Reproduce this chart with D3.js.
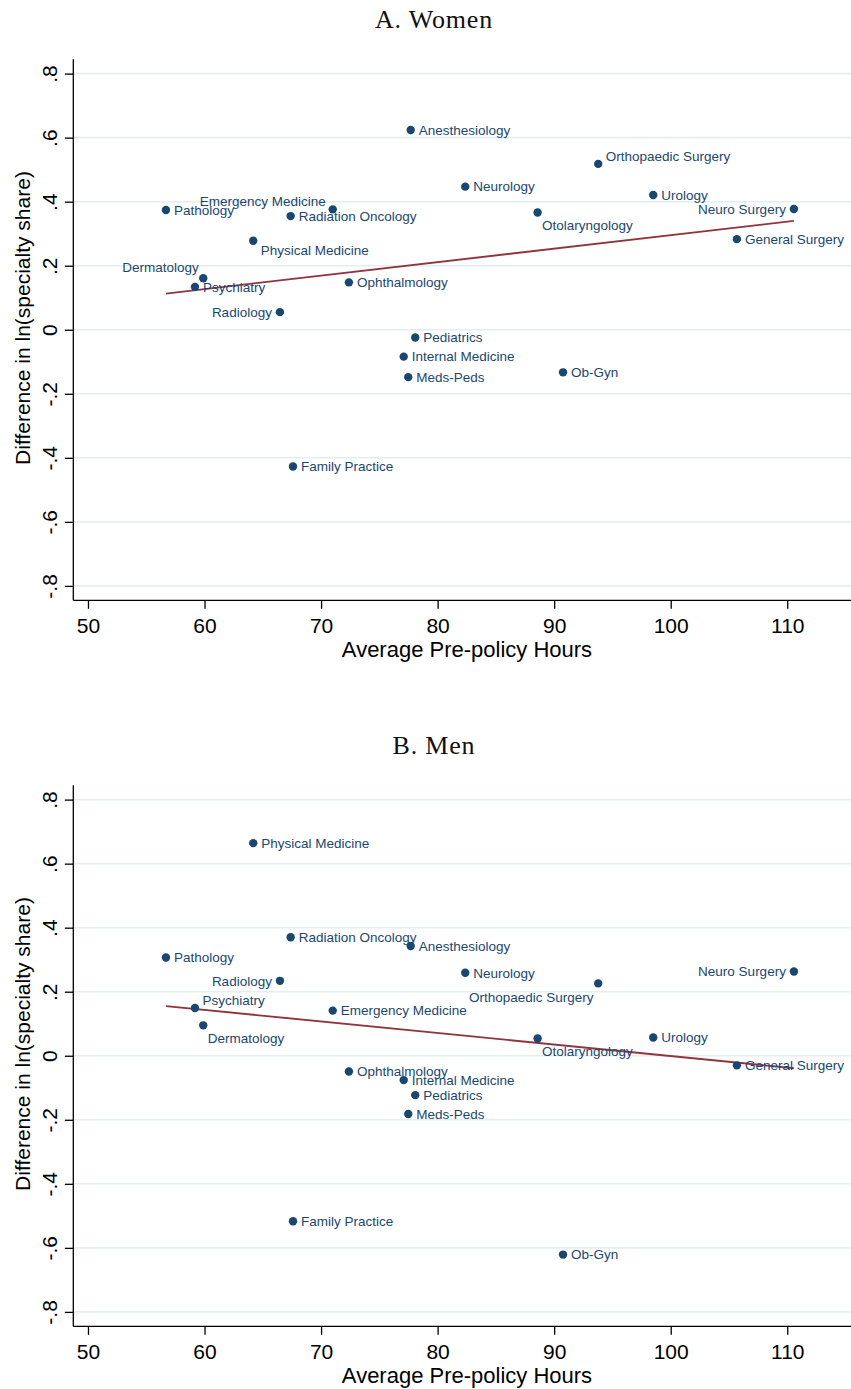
<!DOCTYPE html>
<html>
<head>
<meta charset="utf-8">
<script src="https://cdn.jsdelivr.net/npm/d3@7"></script>
<style>
  body { margin: 0; background: #fff; }
  svg { display: block; }
</style>
</head>
<body>
<div id="chart"></div>
<script>
// Specialties (same order in every array below)
const specialties = [
  "Anesthesiology", "Pathology", "Emergency Medicine", "Radiation Oncology",
  "Physical Medicine", "Dermatology", "Psychiatry", "Ophthalmology",
  "Radiology", "Pediatrics", "Internal Medicine", "Meds-Peds", "Ob-Gyn",
  "Family Practice", "Neurology", "Orthopaedic Surgery", "Urology",
  "Otolaryngology", "Neuro Surgery", "General Surgery"
];

// x: average pre-policy hours
const hours = [
  77.69, 56.69, 71.00, 67.39, 64.18, 59.89, 59.18, 72.39, 66.47, 78.08,
  77.09, 77.48, 90.76, 67.59, 82.37, 93.78, 98.50, 88.58, 110.57, 105.68
];

// y: difference in ln(specialty share)
const womenDiff = [
  0.624, 0.374, 0.376, 0.355, 0.278, 0.161, 0.134, 0.148, 0.055, -0.024,
  -0.084, -0.148, -0.133, -0.427, 0.447, 0.518, 0.421, 0.366, 0.377, 0.283
];
const menDiff = [
  0.343, 0.307, 0.141, 0.370, 0.664, 0.095, 0.149, -0.049, 0.234, -0.123,
  -0.076, -0.182, -0.621, -0.517, 0.259, 0.226, 0.057, 0.054, 0.263, -0.030
];

// fitted lines (end points)
const womenFit = [[56.69, 0.113], [110.57, 0.340]];
const menFit = [[56.69, 0.155], [110.57, -0.039]];

const xTicks = [50, 60, 70, 80, 90, 100, 110];
const yTicks = [-0.8, -0.6, -0.4, -0.2, 0, 0.2, 0.4, 0.6, 0.8];
const yTickLabels = ["-.8", "-.6", "-.4", "-.2", "0", ".2", ".4", ".6", ".8"];

// label clock positions that are not the default (3 o'clock)
const womenLabelPos = {
  "Emergency Medicine": 10, "Physical Medicine": 4, "Dermatology": 11,
  "Radiology": 9, "Orthopaedic Surgery": 2, "Otolaryngology": 5, "Neuro Surgery": 9
};
const menLabelPos = {
  "Radiology": 9, "Psychiatry": 2, "Dermatology": 5, "Neuro Surgery": 9,
  "Orthopaedic Surgery": 7, "Otolaryngology": 5
};

const W = 851, H = 1389;
const navy = "#1a476f";
const maroon = "#90353b";
const sans = "'Liberation Sans', Arial, sans-serif";

// offsets for each clock position
const clock = {
  3: { dx: 8, dy: 0, anchor: "start" },
  9: { dx: -8, dy: 0, anchor: "end" },
  2: { dx: 7.5, dy: -7.5, anchor: "start" },
  4: { dx: 7.5, dy: 10, anchor: "start" },
  5: { dx: 4.4, dy: 13, anchor: "start" },
  7: { dx: -4.6, dy: 13.4, anchor: "end" },
  10: { dx: -7, dy: -8.3, anchor: "end" },
  11: { dx: -4.4, dy: -10.8, anchor: "end" }
};

const svg = d3.select("#chart").append("svg")
  .attr("width", W)
  .attr("height", H);

const x = d3.scaleLinear().domain([48.74, 115.47]).range([73.3, W]);
const y = d3.scaleLinear().domain([-0.845, 0.845]).range([600.3, 59.2]);

function drawPanel(offsetY, title, diffs, fit, labelPos) {
  const g = svg.append("g").attr("transform", `translate(0,${offsetY})`);

  // title
  g.append("text")
    .attr("x", 434).attr("y", 28)
    .attr("text-anchor", "middle")
    .attr("font-family", "'Liberation Serif', 'Times New Roman', serif")
    .attr("font-size", 26)
    .attr("letter-spacing", 0.8)
    .attr("fill", "#111")
    .text(title);

  // grid
  g.append("g").selectAll("line").data(yTicks).join("line")
    .attr("x1", x.range()[0]).attr("x2", W)
    .attr("y1", d => y(d)).attr("y2", d => y(d))
    .attr("stroke", "#e4eef0")
    .attr("stroke-width", 1.6);

  // x axis
  const xAxis = g.append("g")
    .attr("transform", `translate(0,${y.range()[0]})`)
    .call(d3.axisBottom(x).tickValues(xTicks).tickSize(8.5).tickPadding(9.5).tickFormat(d3.format("d")));
  xAxis.select(".domain").attr("stroke", "#000").attr("stroke-width", 1.3)
    .attr("d", `M${x.range()[0]},0H${W}`);
  xAxis.selectAll(".tick line").attr("stroke", "#000").attr("stroke-width", 1.3);
  xAxis.selectAll(".tick text")
    .attr("font-family", sans).attr("font-size", 21).attr("fill", "#000");

  // y axis
  const yAxis = g.append("g")
    .attr("transform", `translate(${x.range()[0]},0)`)
    .call(d3.axisLeft(y).tickValues(yTicks).tickSize(8.5).tickFormat((d, i) => yTickLabels[i]));
  yAxis.select(".domain").attr("stroke", "#000").attr("stroke-width", 1.3)
    .attr("d", `M0,${y.range()[1]}V${y.range()[0]}`);
  yAxis.selectAll(".tick line").attr("stroke", "#000").attr("stroke-width", 1.3);
  yAxis.selectAll(".tick text")
    .attr("x", null).attr("dy", null)
    .attr("text-anchor", "middle")
    .attr("transform", "translate(-16,0) rotate(-90)")
    .attr("font-family", sans).attr("font-size", 21).attr("fill", "#000");

  // axis titles
  g.append("text")
    .attr("x", 467).attr("y", 657)
    .attr("text-anchor", "middle")
    .attr("font-family", sans).attr("font-size", 22)
    .text("Average Pre-policy Hours");

  g.append("text")
    .attr("transform", "translate(30,318) rotate(-90)")
    .attr("text-anchor", "middle")
    .attr("font-family", sans).attr("font-size", 21)
    .text("Difference in ln(specialty share)");

  const pts = specialties.map((name, i) => ({ name, h: hours[i], v: diffs[i] }));

  // fitted line
  g.append("path")
    .datum(fit)
    .attr("fill", "none")
    .attr("stroke", maroon)
    .attr("stroke-width", 1.9)
    .attr("d", d3.line().x(d => x(d[0])).y(d => y(d[1])));

  // points
  g.append("g").selectAll("circle").data(pts).join("circle")
    .attr("cx", d => x(d.h))
    .attr("cy", d => y(d.v))
    .attr("r", 4.2)
    .attr("fill", navy);

  // labels
  g.append("g").selectAll("text").data(pts).join("text")
    .each(function(d) {
      const p = clock[labelPos[d.name] || 3];
      d3.select(this)
        .attr("x", x(d.h) + p.dx)
        .attr("y", y(d.v) + p.dy)
        .attr("text-anchor", p.anchor);
    })
    .attr("dy", "0.35em")
    .attr("font-family", sans)
    .attr("font-size", 13.5)
    .attr("fill", navy)
    .text(d => d.name);
}

drawPanel(0, "A. Women", womenDiff, womenFit, womenLabelPos);
drawPanel(726, "B. Men", menDiff, menFit, menLabelPos);
</script>
</body>
</html>
